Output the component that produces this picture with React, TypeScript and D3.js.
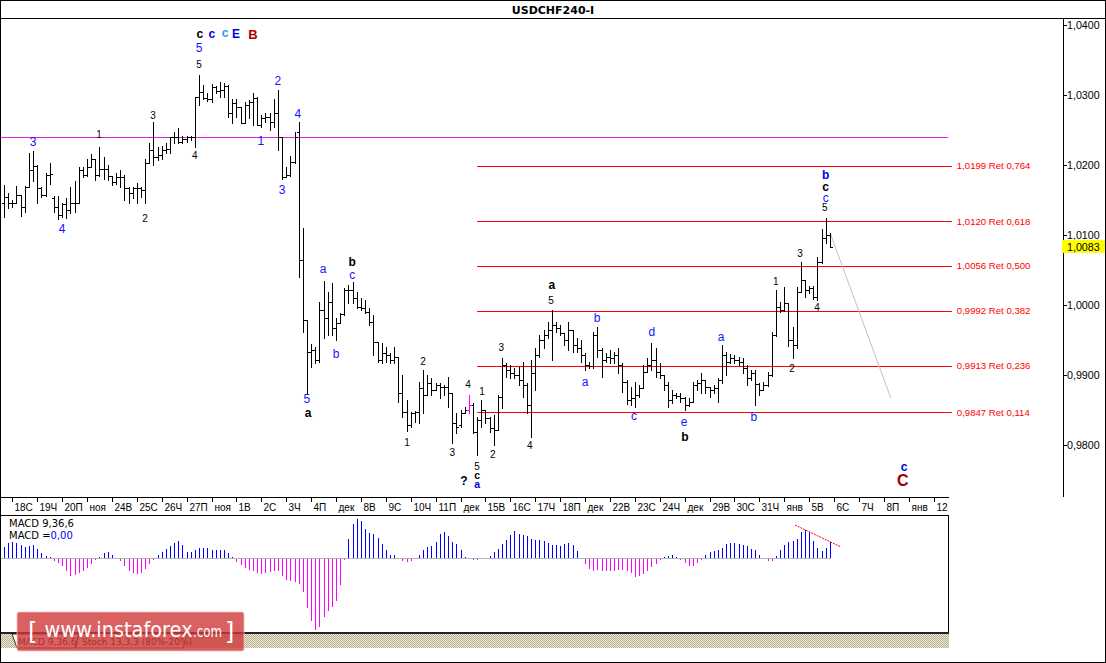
import React from "react";
import * as d3 from "d3";

// ---------- DATA (USDCHF H4, bars 1..200) ----------
const opens = [
  1.0146,1.0154,1.0146,1.0146,1.0157,1.0140,1.0169,1.0193,1.0199,1.0167,
  1.0157,1.0186,1.0153,1.0140,1.0129,1.0144,1.0136,1.0146,1.0146,1.0193,
  1.0186,1.0197,1.0209,1.0186,1.0194,1.0194,1.0184,1.0176,1.0183,1.0183,
  1.0167,1.0160,1.0167,1.0167,1.0164,1.0203,1.0221,1.0211,1.0214,1.0221,
  1.0223,1.0240,1.0240,1.0233,1.0237,1.0240,1.0240,1.0297,1.0304,1.0296,
  1.0294,1.0311,1.0306,1.0307,1.0313,1.0274,1.0289,1.0283,1.0260,1.0286,
  1.0290,1.0296,1.0257,1.0267,1.0269,1.0261,1.0274,1.0240,1.0183,1.0186,
  1.0204,1.0247,1.0064,0.9979,0.9933,0.9936,0.9921,0.9993,0.9981,1.0004,
  0.9967,0.9974,0.9987,1.0021,1.0021,1.0010,0.9997,0.9996,0.9990,0.9976,
  0.9947,0.9921,0.9931,0.9929,0.9921,0.9926,0.9874,0.9847,0.9829,0.9846,
  0.9847,0.9881,0.9871,0.9889,0.9879,0.9886,0.9883,0.9883,0.9874,0.9831,
  0.9829,0.9846,0.9850,0.9857,0.9819,0.9836,0.9850,0.9839,0.9824,0.9821,
  0.9869,0.9914,0.9907,0.9903,0.9900,0.9893,0.9886,0.9857,0.9903,0.9929,
  0.9950,0.9957,0.9964,0.9971,0.9967,0.9960,0.9950,0.9964,0.9943,0.9939,
  0.9929,0.9914,0.9913,0.9957,0.9936,0.9921,0.9926,0.9924,0.9929,0.9914,
  0.9890,0.9864,0.9867,0.9871,0.9881,0.9904,0.9914,0.9921,0.9904,0.9900,
  0.9886,0.9864,0.9871,0.9870,0.9867,0.9857,0.9861,0.9886,0.9889,0.9893,
  0.9883,0.9879,0.9881,0.9893,0.9929,0.9919,0.9924,0.9921,0.9919,0.9910,
  0.9896,0.9903,0.9887,0.9879,0.9886,0.9900,0.9957,0.9997,0.9993,1.0003,
  0.9950,0.9943,1.0019,1.0036,1.0021,1.0024,1.0011,1.0061,1.0096,1.0100,
];
const highs = [
  1.0171,1.0160,1.0150,1.0170,1.0157,1.0170,1.0217,1.0220,1.0200,1.0169,
  1.0189,1.0203,1.0156,1.0156,1.0146,1.0153,1.0169,1.0177,1.0197,1.0197,
  1.0209,1.0216,1.0209,1.0226,1.0211,1.0200,1.0184,1.0189,1.0193,1.0186,
  1.0169,1.0169,1.0174,1.0169,1.0209,1.0231,1.0261,1.0226,1.0227,1.0231,
  1.0240,1.0247,1.0253,1.0241,1.0241,1.0241,1.0297,1.0329,1.0314,1.0303,
  1.0316,1.0313,1.0319,1.0317,1.0314,1.0294,1.0294,1.0283,1.0290,1.0293,
  1.0303,1.0297,1.0271,1.0274,1.0274,1.0294,1.0307,1.0240,1.0197,1.0213,
  1.0247,1.0261,1.0110,0.9979,0.9944,0.9940,1.0004,1.0034,1.0019,1.0031,
  0.9981,0.9989,1.0024,1.0029,1.0033,1.0019,1.0010,1.0007,0.9996,0.9986,
  0.9947,0.9946,0.9940,0.9931,0.9940,0.9926,0.9900,0.9864,0.9847,0.9849,
  0.9890,0.9907,0.9900,0.9896,0.9889,0.9889,0.9886,0.9897,0.9874,0.9846,
  0.9850,0.9854,0.9871,0.9860,0.9840,0.9864,0.9850,0.9840,0.9843,0.9871,
  0.9924,0.9917,0.9914,0.9910,0.9911,0.9919,0.9889,0.9921,0.9939,0.9957,
  0.9964,0.9976,0.9993,0.9976,0.9971,0.9960,0.9976,0.9964,0.9953,0.9950,
  0.9931,0.9919,0.9961,0.9969,0.9939,0.9931,0.9936,0.9933,0.9939,0.9917,
  0.9893,0.9883,0.9890,0.9886,0.9914,0.9924,0.9946,0.9939,0.9917,0.9900,
  0.9890,0.9879,0.9874,0.9874,0.9869,0.9867,0.9890,0.9893,0.9903,0.9893,
  0.9883,0.9886,0.9896,0.9943,0.9933,0.9930,0.9929,0.9926,0.9924,0.9914,
  0.9907,0.9907,0.9889,0.9890,0.9904,0.9961,1.0021,1.0004,1.0026,1.0003,
  0.9969,1.0026,1.0061,1.0036,1.0027,1.0027,1.0069,1.0109,1.0124,1.0103,
];
const lows = [
  1.0126,1.0139,1.0140,1.0146,1.0127,1.0133,1.0169,1.0177,1.0146,1.0154,
  1.0156,1.0173,1.0133,1.0123,1.0126,1.0124,1.0131,1.0133,1.0146,1.0183,
  1.0184,1.0197,1.0179,1.0184,1.0180,1.0179,1.0171,1.0173,1.0169,1.0150,
  1.0146,1.0153,1.0146,1.0154,1.0146,1.0203,1.0200,1.0207,1.0209,1.0217,
  1.0217,1.0231,1.0231,1.0231,1.0233,1.0236,1.0226,1.0286,1.0294,1.0291,
  1.0290,1.0303,1.0297,1.0297,1.0269,1.0260,1.0269,1.0260,1.0260,1.0267,
  1.0257,1.0257,1.0254,1.0261,1.0250,1.0254,1.0221,1.0180,1.0183,1.0184,
  1.0203,1.0040,0.9961,0.9874,0.9911,0.9917,0.9919,0.9953,0.9957,0.9957,
  0.9950,0.9974,0.9985,1.0003,1.0003,0.9996,0.9993,0.9989,0.9971,0.9929,
  0.9919,0.9917,0.9919,0.9917,0.9917,0.9861,0.9840,0.9820,0.9826,0.9833,
  0.9831,0.9846,0.9871,0.9871,0.9879,0.9867,0.9871,0.9854,0.9803,0.9817,
  0.9826,0.9846,0.9846,0.9817,0.9786,0.9826,0.9831,0.9819,0.9800,0.9821,
  0.9853,0.9897,0.9896,0.9896,0.9886,0.9869,0.9846,0.9811,0.9879,0.9926,
  0.9939,0.9953,0.9921,0.9961,0.9957,0.9943,0.9936,0.9933,0.9933,0.9919,
  0.9907,0.9910,0.9910,0.9926,0.9897,0.9919,0.9917,0.9917,0.9903,0.9876,
  0.9859,0.9857,0.9854,0.9869,0.9881,0.9904,0.9907,0.9897,0.9896,0.9879,
  0.9854,0.9860,0.9867,0.9861,0.9850,0.9856,0.9861,0.9879,0.9874,0.9874,
  0.9869,0.9874,0.9861,0.9889,0.9900,0.9917,0.9917,0.9914,0.9903,0.9886,
  0.9893,0.9857,0.9871,0.9879,0.9884,0.9899,0.9956,0.9990,0.9991,0.9941,
  0.9924,0.9939,1.0019,1.0011,1.0017,1.0009,1.0007,1.0060,1.0089,1.0083,
];
const closes = [
  1.0154,1.0146,1.0146,1.0157,1.0140,1.0169,1.0193,1.0199,1.0167,1.0157,
  1.0186,1.0187,1.0140,1.0129,1.0144,1.0136,1.0146,1.0146,1.0193,1.0186,
  1.0197,1.0209,1.0186,1.0194,1.0194,1.0184,1.0176,1.0183,1.0183,1.0167,
  1.0160,1.0167,1.0167,1.0164,1.0203,1.0221,1.0211,1.0214,1.0221,1.0223,
  1.0240,1.0240,1.0233,1.0237,1.0240,1.0240,1.0297,1.0304,1.0296,1.0294,
  1.0311,1.0306,1.0307,1.0313,1.0274,1.0289,1.0283,1.0260,1.0286,1.0290,
  1.0296,1.0257,1.0267,1.0269,1.0261,1.0274,1.0240,1.0183,1.0186,1.0204,
  1.0240,1.0064,0.9979,0.9933,0.9936,0.9921,0.9993,0.9981,1.0004,0.9967,
  0.9974,0.9987,1.0021,1.0021,1.0010,0.9997,0.9996,0.9990,0.9976,0.9947,
  0.9921,0.9931,0.9929,0.9921,0.9926,0.9874,0.9847,0.9829,0.9846,0.9847,
  0.9881,0.9871,0.9889,0.9879,0.9886,0.9883,0.9883,0.9874,0.9831,0.9826,
  0.9846,0.9850,0.9857,0.9819,0.9836,0.9850,0.9839,0.9824,0.9821,0.9869,
  0.9914,0.9907,0.9903,0.9900,0.9893,0.9886,0.9857,0.9903,0.9929,0.9950,
  0.9957,0.9964,0.9971,0.9967,0.9960,0.9950,0.9964,0.9943,0.9939,0.9929,
  0.9914,0.9913,0.9957,0.9936,0.9921,0.9926,0.9924,0.9929,0.9914,0.9890,
  0.9864,0.9867,0.9871,0.9881,0.9904,0.9914,0.9921,0.9904,0.9900,0.9886,
  0.9864,0.9871,0.9870,0.9867,0.9857,0.9861,0.9886,0.9889,0.9893,0.9883,
  0.9879,0.9881,0.9893,0.9929,0.9919,0.9924,0.9921,0.9919,0.9910,0.9896,
  0.9903,0.9887,0.9879,0.9886,0.9900,0.9957,0.9997,0.9993,1.0003,0.9950,
  0.9943,1.0019,1.0036,1.0021,1.0024,1.0011,1.0061,1.0096,1.0100,1.0083,
];
// MACD(9,36,6) histogram, in points (1 point = 0.0001)
const macdHistPoints = [
  11,15,16,15,13,11,12,13,9,5,2,1,
  -2,-4,-7,-12,-17,-16,-14,-12,-9,-5,-1,
  1,5,6,3,0,
  -2,-7,-12,-14,-15,-14,-10,-5,
  -1,3,6,9,12,15,17,13,
  6,6,8,10,10,10,8,8,8,8,5,1,
  -3,
  -6,-9,-11,-12,-14,-15,-14,-13,-12,-12,
  -17,-21,-22,-23,-25,-33,-49,-62,-71,-68,-58,-52,-48,-42,-26,
  -1,19,34,39,37,29,25,24,20,14,8,3,3,0,
  -2,-3,-2,0,3,8,11,12,16,24,26,22,16,14,8,1,
  0,-1,-1,0,0,2,6,9,14,18,23,27,24,23,22,19,18,18,17,15,13,13,
  12,14,15,13,7,0,-5,-10,-12,-11,
  -12,-12,-12,-12,-11,-11,-12,-14,-18,-17,
  -15,-12,-8,-5,-1,1,2,3,1,-1,
  -4,-7,-7,-4,-1,3,6,7,8,10,
  14,15,15,14,13,12,9,8,3,0,
  -2,-2,2,8,13,16,17,19,26,28,
  26,17,10,7,10,16,
];
const timeLabels = [
  "18С","19Ч","20П","ноя","24В","25С","26Ч","27П","ноя","1В","2С","3Ч","4П",
  "дек","8В","9С","10Ч","11П","дек","15В","16С","17Ч","18П","дек","22В","23С",
  "24Ч","дек","29В","30С","31Ч","янв","5В","6С","7Ч","8П","янв","12В",
];
const priceTicks = [1.04, 1.03, 1.02, 1.01, 1.0, 0.99, 0.98];
const fibPrices = [1.0199, 1.012, 1.0056, 0.9992, 0.9913, 0.9847];
const fibRatios = ["0,764", "0,618", "0,500", "0,382", "0,236", "0,114"];
const lastPrice = 1.0083;
const levelPrice = 1.024;
const levelBars = [0.04, 228.5];
const fibBars = [115, 229.4, 230.6];
const projection: [number, number][] = [[200, 1.0104], [214.7, 0.9867]];
const macdTrend: [number, number][] = [[191.6, 32.7], [202.7, 10.7]];
const magentaBar = 113;
// wave labels: [bar, price, text, kind]
const waveLabels: [number, number, string, string][] = [
  [48.2, 1.0387, "c", "kb"], [51.1, 1.0387, "c", "bb"], [54.3, 1.0388, "c", "cb"],
  [56.9, 1.0387, "E", "bb"], [61, 1.0387, "B", "rb"],
  [48, 1.0367, "5", "bn"], [48, 1.0344, "5", "kn"],
  [8, 1.0233, "3", "bn"], [23.9, 1.0244, "1", "kn"], [36.9, 1.0271, "3", "kn"],
  [15, 1.0109, "4", "bn"], [35, 1.0124, "2", "kn"], [47, 1.0214, "4", "kn"],
  [67, 1.032, "2", "bn"], [62.9, 1.0234, "1", "bn"], [71.8, 1.0273, "4", "bn"],
  [68, 1.0164, "3", "bn"],
  [77.9, 1.0051, "a", "bl"], [84.9, 1.0061, "b", "kb"], [84.9, 1.0043, "c", "bl"],
  [81, 0.993, "b", "bl"], [74, 0.9866, "5", "bn"], [74.3, 0.9846, "a", "kb"],
  [98.1, 0.9804, "1", "kn"], [102, 0.9919, "2", "kn"], [109, 0.9789, "3", "kn"],
  [112.8, 0.9887, "4", "kn"], [116.2, 0.9877, "1", "kn"], [115, 0.9769, "5", "kn"],
  [115, 0.9757, "c", "ks"], [115, 0.9744, "a", "bs"], [111.8, 0.9749, "?", "kb"],
  [118.8, 0.9787, "2", "kn"], [120.8, 0.994, "3", "kn"], [127.7, 0.98, "4", "kn"],
  [133, 1.0029, "a", "kb"], [132.8, 1.0007, "5", "kn"],
  [143.9, 0.9981, "b", "bl"], [141, 0.989, "a", "bl"], [157.1, 0.9961, "d", "bl"],
  [152.8, 0.9841, "c", "bl"], [164.9, 0.9833, "e", "bl"], [165.1, 0.9811, "b", "kb"],
  [173.8, 0.9954, "a", "bl"], [181.7, 0.984, "b", "bl"],
  [187, 1.0033, "1", "kn"], [190.9, 0.991, "2", "kn"], [192.8, 1.0074, "3", "kn"],
  [196.9, 0.9997, "4", "kn"], [198.8, 1.0139, "5", "kn"],
  [199, 1.0153, "c", "bl"], [199, 1.0169, "c", "kb"], [199, 1.0186, "b", "bb"],
  [217.9, 0.9769, "c", "bb"], [217.6, 0.9749, "C", "rB"],
];

const SANS = "'Liberation Sans', Arial, sans-serif";
const DJ = "'DejaVu Sans', Verdana, sans-serif";
const KIND: Record<string, { fill: string; size: number; weight: string }> = {
  kn: { fill: "#000", size: 10, weight: "normal" },
  bn: { fill: "#1414ff", size: 12, weight: "normal" },
  bl: { fill: "#1414ff", size: 12, weight: "normal" },
  kb: { fill: "#000", size: 12, weight: "bold" },
  ks: { fill: "#000", size: 10.5, weight: "bold" },
  bs: { fill: "#0000e6", size: 10.5, weight: "bold" },
  bb: { fill: "#0000e6", size: 12, weight: "bold" },
  cb: { fill: "#1ca0e8", size: 12, weight: "bold" },
  rb: { fill: "#b00000", size: 13, weight: "bold" },
  rB: { fill: "#a00000", size: 16, weight: "bold" },
};
const comma = (v: number, f: string) => d3.format(f)(v).replace(".", ",");

export default function App() {
  const xS = d3.scaleLinear().domain([1, 229]).range([4, 4 + 4.15 * 228]);
  const yS = d3.scaleLinear().domain([0.98, 1.04]).range([445, 25]);
  const mS = d3.scaleLinear().domain([-72, 40]).range([629.7, 517.7]);
  const col = (i: number) => Math.round(xS(i));
  const row = (p: number) => Math.round(yS(p));

  let bars = "";
  let magenta = "";
  opens.forEach((o, k) => {
    const i = k + 1;
    const X = col(i);
    const seg =
      `M${X + 0.5},${row(highs[k])}V${row(lows[k]) + 1}` +
      `M${X - 2},${row(o) + 0.5}H${X}` +
      `M${X + 1},${row(closes[k]) + 0.5}H${X + 3}`;
    if (i === magentaBar) magenta += seg;
    else bars += seg;
  });

  const zeroY = Math.round(mS(0));
  let posPath = "";
  let negPath = "";
  macdHistPoints.forEach((v, k) => {
    if (v === 0) return;
    const X = col(k + 1) + 0.5;
    const yv = Math.round(mS(v));
    if (v > 0) posPath += `M${X},${zeroY}V${yv}`;
    else negPath += `M${X},${zeroY + 1}V${yv + 1}`;
  });

  const lineGen = d3.line<[number, number]>().x((d) => xS(d[0])).y((d) => yS(d[1]));
  const macdLine = d3.line<[number, number]>().x((d) => xS(d[0])).y((d) => mS(d[1]));

  const chartRight = 948;
  const axisX = 1063;

  return (
    <svg
      width={1106}
      height={663}
      style={{ position: "absolute", left: 0, top: 0, background: "#fff" }}
      xmlns="http://www.w3.org/2000/svg"
    >
      <defs>
        <pattern id="hatch" width="2" height="2" patternUnits="userSpaceOnUse">
          <rect width="2" height="2" fill="#ebe7d6" />
          <rect width="1" height="1" fill="#b9b292" />
          <rect x="1" y="1" width="1" height="1" fill="#b9b292" />
        </pattern>
        <clipPath id="main">
          <rect x="1" y="19" width={axisX - 1} height={478} />
        </clipPath>
        <clipPath id="timerow">
          <rect x="1" y="498" width={chartRight - 1} height={17} />
        </clipPath>
      </defs>
      <rect x="0" y="0" width="1106" height="663" fill="#fff" />

      {/* title */}
      <text x={553} y={14} textAnchor="middle" fontFamily={DJ} fontWeight="bold" fontSize={11} fill="#000">
        USDCHF240-I
      </text>

      <g clipPath="url(#main)">
        {/* horizontal magenta level */}
        <line
          x1={xS(levelBars[0])} x2={xS(levelBars[1])}
          y1={row(levelPrice) + 0.5} y2={row(levelPrice) + 0.5}
          stroke="#e01ee8" strokeWidth={1}
        />
        {/* fibonacci retracements */}
        {fibPrices.map((p, k) => (
          <g key={k}>
            <line x1={xS(fibBars[0])} x2={xS(fibBars[1])} y1={row(p) + 0.5} y2={row(p) + 0.5} stroke="#ff0000" strokeWidth={1} />
            <text x={xS(fibBars[2])} y={yS(p) + 3.5} fontFamily={SANS} fontSize={9.6} fill="#ff0000">
              {`${comma(p, ".4f")} Ret ${fibRatios[k]}`}
            </text>
          </g>
        ))}
        {/* projection line */}
        <path d={lineGen(projection) || ""} stroke="#c8bcc8" strokeWidth={1} fill="none" />
        {/* bars */}
        <path d={bars} stroke="#000" strokeWidth={1} fill="none" shapeRendering="crispEdges" />
        <path d={magenta} stroke="#ff00ff" strokeWidth={1} fill="none" shapeRendering="crispEdges" />
        {/* wave labels */}
        {waveLabels.map(([b, p, t, kind], k) => {
          const s = KIND[kind];
          return (
            <text
              key={k}
              x={xS(b)}
              y={yS(p)}
              textAnchor="middle"
              dominantBaseline="central"
              fontFamily={SANS}
              fontSize={s.size}
              fontWeight={s.weight}
              fill={s.fill}
            >
              {t}
            </text>
          );
        })}
      </g>

      {/* price axis */}
      <line x1={axisX + 0.5} x2={axisX + 0.5} y1={18} y2={497} stroke="#000" />
      {priceTicks.map((p) => (
        <g key={p}>
          <line x1={axisX} x2={axisX + 4} y1={row(p) + 0.5} y2={row(p) + 0.5} stroke="#000" />
          <text x={axisX + 4} y={yS(p) + 4} fontFamily={SANS} fontSize={10.7} fill="#000">
            {comma(p, ".4f")}
          </text>
        </g>
      ))}
      <rect x={axisX - 1} y={yS(lastPrice) - 7} width={1106 - axisX} height={13} fill="#ffff00" />
      <text x={axisX + 4} y={yS(lastPrice) + 4} fontFamily={SANS} fontSize={10.7} fill="#000">
        {comma(lastPrice, ".4f")}
      </text>

      {/* time axis */}
      <line x1={0} x2={chartRight + 1} y1={497.5} y2={497.5} stroke="#000" />
      <line x1={0} x2={chartRight + 1} y1={515.5} y2={515.5} stroke="#000" />
      <g clipPath="url(#timerow)">
        {timeLabels.map((t, k) => {
          const X = col(3 + 6 * k) + 0.5;
          return (
            <g key={k}>
              <line x1={X} x2={X} y1={497} y2={502} stroke="#000" />
              <text x={X + 2} y={511} fontFamily={SANS} fontSize={10} fill="#000">
                {t}
              </text>
            </g>
          );
        })}
      </g>

      {/* MACD panel */}
      <line x1={chartRight + 0.5} x2={chartRight + 0.5} y1={515} y2={633} stroke="#000" />
      <line x1={1} x2={col(200) + 1} y1={zeroY + 0.5} y2={zeroY + 0.5} stroke="#b4b4b4" strokeWidth={1} />
      <path d={posPath} stroke="#0000ff" strokeWidth={1} fill="none" shapeRendering="crispEdges" />
      <path d={negPath} stroke="#ff00ff" strokeWidth={1} fill="none" shapeRendering="crispEdges" />
      <path d={macdLine(macdTrend) || ""} stroke="#ff0000" strokeWidth={1} strokeDasharray="2,1" fill="none" />
      <text x={9} y={527} fontFamily={DJ} fontSize={10} fill="#000">MACD 9,36,6</text>
      <text x={9} y={539} fontFamily={DJ} fontSize={10} fill="#000">
        MACD =<tspan fill="#0000ff">0,00</tspan>
      </text>

      {/* bottom tab band */}
      <rect x={1} y={632} width={chartRight} height={2} fill="#222" />
      <rect x={1} y={634} width={chartRight} height={14} fill="url(#hatch)" />
      <path d="M12,634 L17,648 L75,648 L79,634 Z" fill="#fff" stroke="#000" strokeWidth={0.8} />
      <path d="M79,634 L76,648 L183,648 L187,634" fill="#f4f2ea" stroke="#000" strokeWidth={0.6} />
      <text x={18} y={645} fontFamily={DJ} fontSize={9} fill="#000">MACD 9,36,6</text>
      <text x={82} y={645} fontFamily={DJ} fontSize={9} fill="#000">Stoch 13,3,3 (80%-20%)</text>

      {/* watermark */}
      <rect x={17} y={612} width={227} height={39} rx={2} fill="rgba(208,58,58,0.8)" stroke="rgba(255,190,190,0.7)" />
      <text x={28} y={640} fontFamily={DJ} fontSize={24} fill="#fff">[</text>
      <text x={44.6} y={637} fontFamily={DJ} fontSize={21} fill="#fff" textLength={148} lengthAdjust="spacingAndGlyphs">
        www.instaforex
      </text>
      <text x={193} y={637} fontFamily={DJ} fontSize={15} fill="#fff" textLength={29} lengthAdjust="spacingAndGlyphs">
        .com
      </text>
      <text x={225} y={640} fontFamily={DJ} fontSize={24} fill="#fff">]</text>

      {/* frame */}
      <line x1={0} x2={1106} y1={18.5} y2={18.5} stroke="#000" />
      <rect x={0.5} y={0.5} width={1105} height={662} fill="none" stroke="#000" />
    </svg>
  );
}
